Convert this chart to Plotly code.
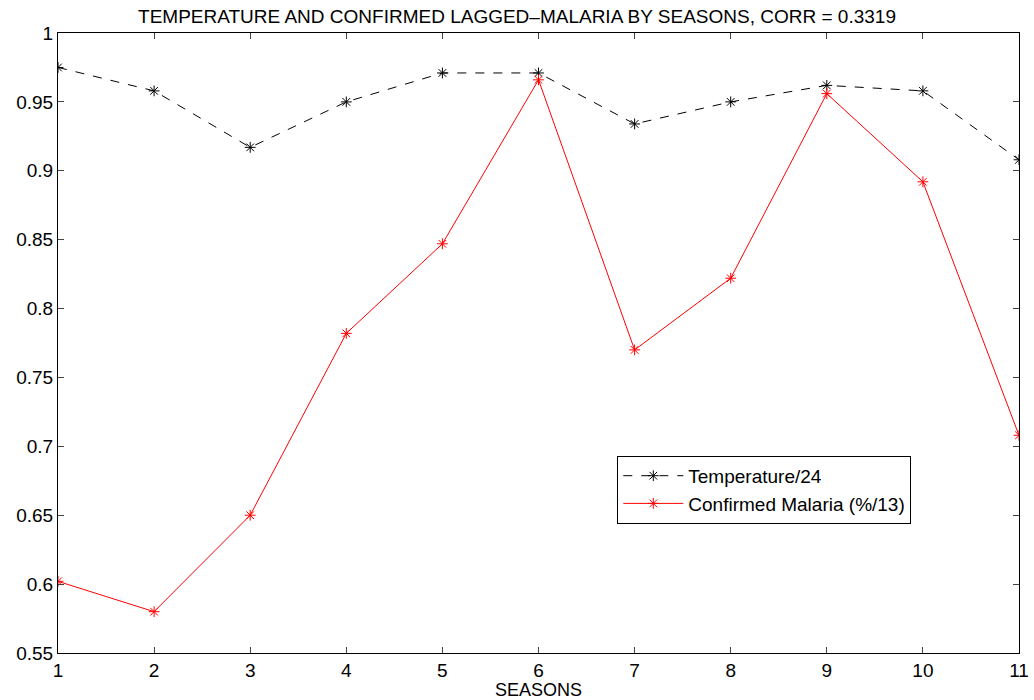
import plotly.graph_objects as go

seasons = [1, 2, 3, 4, 5, 6, 7, 8, 9, 10, 11]
temperature = [0.975, 0.958, 0.917, 0.950, 0.971, 0.971, 0.934, 0.950, 0.962, 0.958, 0.908]
malaria = [0.602, 0.580, 0.650, 0.782, 0.847, 0.966, 0.770, 0.822, 0.956, 0.892, 0.708]
yticks = [0.55, 0.6, 0.65, 0.7, 0.75, 0.8, 0.85, 0.9, 0.95, 1]
ytick_text = ["0.55", "0.6", "0.65", "0.7", "0.75", "0.8", "0.85", "0.9", "0.95", "1"]

fig = go.Figure()
fig.add_trace(go.Scatter(
    x=seasons, y=temperature, mode="lines+markers", name="Temperature/24",
    line=dict(color="black", width=1, dash="9px,9px"),
    marker=dict(symbol="asterisk-open", size=9, color="black", line=dict(color="black", width=1)),
))
fig.add_trace(go.Scatter(
    x=seasons, y=malaria, mode="lines+markers", name="Confirmed Malaria (%/13)",
    line=dict(color="red", width=1),
    marker=dict(symbol="asterisk-open", size=9, color="red", line=dict(color="red", width=1)),
))

fig.update_layout(
    width=1034, height=700,
    margin=dict(l=58, r=15, t=33, b=47),
    paper_bgcolor="white", plot_bgcolor="white",
    font=dict(family="Liberation Sans, Arial, sans-serif", color="black", size=19),
    title=dict(text="TEMPERATURE AND CONFIRMED LAGGED\u2013MALARIA BY SEASONS, CORR = 0.3319",
               x=0.5, xanchor="center", y=0.977, yanchor="middle",
               font=dict(size=19)),
    showlegend=True,
    legend=dict(x=0.582, y=0.318, xanchor="left", yanchor="top",
                bordercolor="black", borderwidth=1, bgcolor="white",
                font=dict(size=19), tracegroupgap=0, itemwidth=60),
    xaxis=dict(range=[1, 11], tickvals=seasons, ticks="inside", ticklen=6,
               showline=True, linecolor="black", linewidth=1, mirror="ticks",
               showgrid=False, zeroline=False, automargin=False,
               title=dict(text="SEASONS", standoff=0, font=dict(size=18)),
               tickfont=dict(size=19)),
    yaxis=dict(range=[0.55, 1], tickvals=yticks, ticktext=ytick_text, ticks="inside", ticklen=6,
               showline=True, linecolor="black", linewidth=1, mirror="ticks",
               showgrid=False, zeroline=False, automargin=False, tickfont=dict(size=19)),
)

fig.write_html("out.html")
